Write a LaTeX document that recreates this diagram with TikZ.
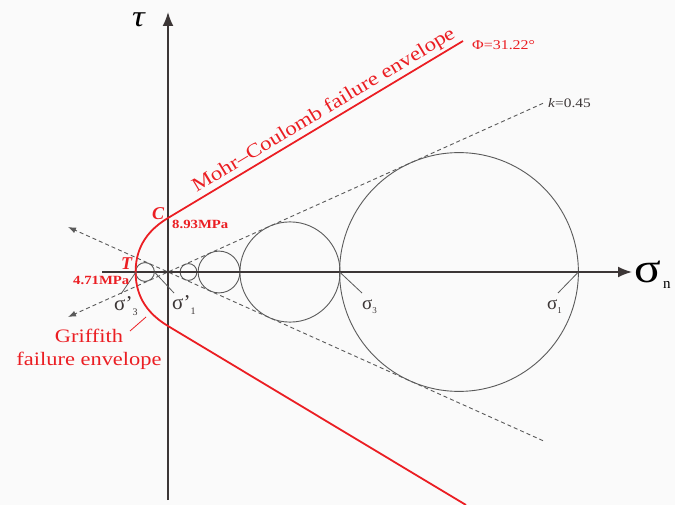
\documentclass[tikz,border=0pt]{standalone}
\usepackage{fontspec}
\setmainfont{Liberation Serif}
\newfontfamily\wide[FakeStretch=1.18]{Liberation Serif}
\usetikzlibrary{arrows.meta}
\definecolor{redc}{RGB}{235,30,35}
\definecolor{axc}{RGB}{60,54,54}
\definecolor{grc}{RGB}{90,90,90}
\tikzset{
  axis/.style={draw=axc, line width=1.8pt, -{Latex[length=14pt,width=11pt]}},
  circ/.style={draw=grc, line width=0.9pt},
  tangent/.style={draw=grc, line width=0.9pt, dash pattern=on 4pt off 3pt, -{Latex[length=8pt,width=6pt]}},
  env/.style={draw=redc, line width=1.8pt, line join=round},
  leader/.style={draw=grc, line width=0.8pt},
  redleader/.style={draw=redc, line width=0.8pt},
  lbl/.style={inner sep=0pt, anchor=base west},
  redlbl/.style={lbl, text=redc},
}
\newcommand{\sz}[1]{\fontsize{#1}{#1}\selectfont}
\begin{document}
\begin{tikzpicture}[x=1pt,y=-1pt]
\useasboundingbox[fill=black!2] (0,0) rectangle (675,505);
% key points
\coordinate (O) at (168,272);
\coordinate (xs) at (102,272);
\coordinate (xe) at (632,272);
\coordinate (ys) at (168,500);
\coordinate (ye) at (168,12);
% circles
\coordinate (c1) at (459,272);
\coordinate (c2) at (290,272);
\coordinate (c3) at (219,272);
\coordinate (c4) at (188.5,272);
\coordinate (c5) at (145,272);
\draw[circ] (c1) circle[radius=119.4pt];
\draw[circ] (c2) circle[radius=50.1pt];
\draw[circ] (c3) circle[radius=20.9pt];
\draw[circ] (c4) circle[radius=8.4pt];
\draw[circ] (c5) circle[radius=9.4pt];
% tangent lines k=0.45
\coordinate (tu) at (543,103.3);
\coordinate (tdl) at (68,317);
\coordinate (td) at (543,440.7);
\coordinate (tul) at (68,227);
\draw[tangent] (tu) -- (tdl);
\draw[tangent] (td) -- (tul);
% axes
\draw[axis] (ys) -- (ye);
\draw[axis] (xs) -- (xe);
% envelopes
\coordinate (V) at (135.6,272);
\coordinate (Cp) at (168,218);
\coordinate (E1) at (463,41);
\coordinate (Cm) at (168,326);
\coordinate (E2) at (466,505);
\draw[env] (E1) -- (Cp) .. controls (150,228.8) and (135.6,245) .. (V)
  .. controls (135.6,299) and (150,315.2) .. (Cm) -- (E2);
% leaders
\coordinate (s3p) at (136,272);  \coordinate (s3pl) at (121,294);
\coordinate (s1p) at (154.4,272); \coordinate (s1pl) at (174,293);
\coordinate (s3) at (339.6,272); \coordinate (s3l) at (362,293);
\coordinate (s1) at (578.4,272); \coordinate (s1l) at (558,293);
\coordinate (gA) at (130,331); \coordinate (gB) at (146,317);
\draw[leader] (s3p) -- (s3pl);
\draw[leader] (s1p) -- (s1pl);
\draw[leader] (s3) -- (s3l);
\draw[leader] (s1) -- (s1l);
\draw[redleader] (gA) -- (gB);
% labels
\node[lbl, font=\wide\itshape\sz{30}] (tau) at (132,27) {τ};
\node[lbl, font=\wide\sz{42}] (sn) at (634,283) {σ};
\node[lbl, font=\sz{15}] (snn) at (663,288) {n};
\node[redlbl, font=\wide\sz{19.5}, rotate=31, anchor=base] (mc) at (326.4,114.8) {Mohr–Coulomb failure envelope};
\node[redlbl, font=\wide\sz{13.5}] (phi) at (472,50) {Φ=31.22°};
\node[lbl, text=axc, font=\wide\sz{13}] (k) at (548,108) {\textit{k}=0.45};
\node[redlbl, font=\bfseries\itshape\sz{18}] (C) at (152,220) {C};
\node[redlbl, font=\wide\bfseries\sz{12.5}] (cval) at (172,229) {8.93MPa};
\node[redlbl, font=\bfseries\itshape\sz{18}] (T) at (121,270) {T};
\node[redlbl, font=\wide\bfseries\sz{12.5}] (tval) at (73,284) {4.71MPa};
\node[redlbl, font=\wide\sz{19}, anchor=base] (g1) at (89,342) {Griffith};
\node[redlbl, font=\wide\sz{19}, anchor=base] (g2) at (89,365) {failure envelope};
\node[lbl, text=axc, font=\sz{21}] (l3p) at (114,310) {σ’{\sz{10}\raisebox{-5pt}{3}}};
\node[lbl, text=axc, font=\sz{21}] (l1p) at (172,309) {σ’{\sz{10}\raisebox{-5pt}{1}}};
\node[lbl, text=axc, font=\sz{19}] (l3) at (362,309) {σ{\sz{9}\raisebox{-4pt}{3}}};
\node[lbl, text=axc, font=\sz{19}] (l1) at (547,309) {σ{\sz{9}\raisebox{-4pt}{1}}};
\end{tikzpicture}
\end{document}
